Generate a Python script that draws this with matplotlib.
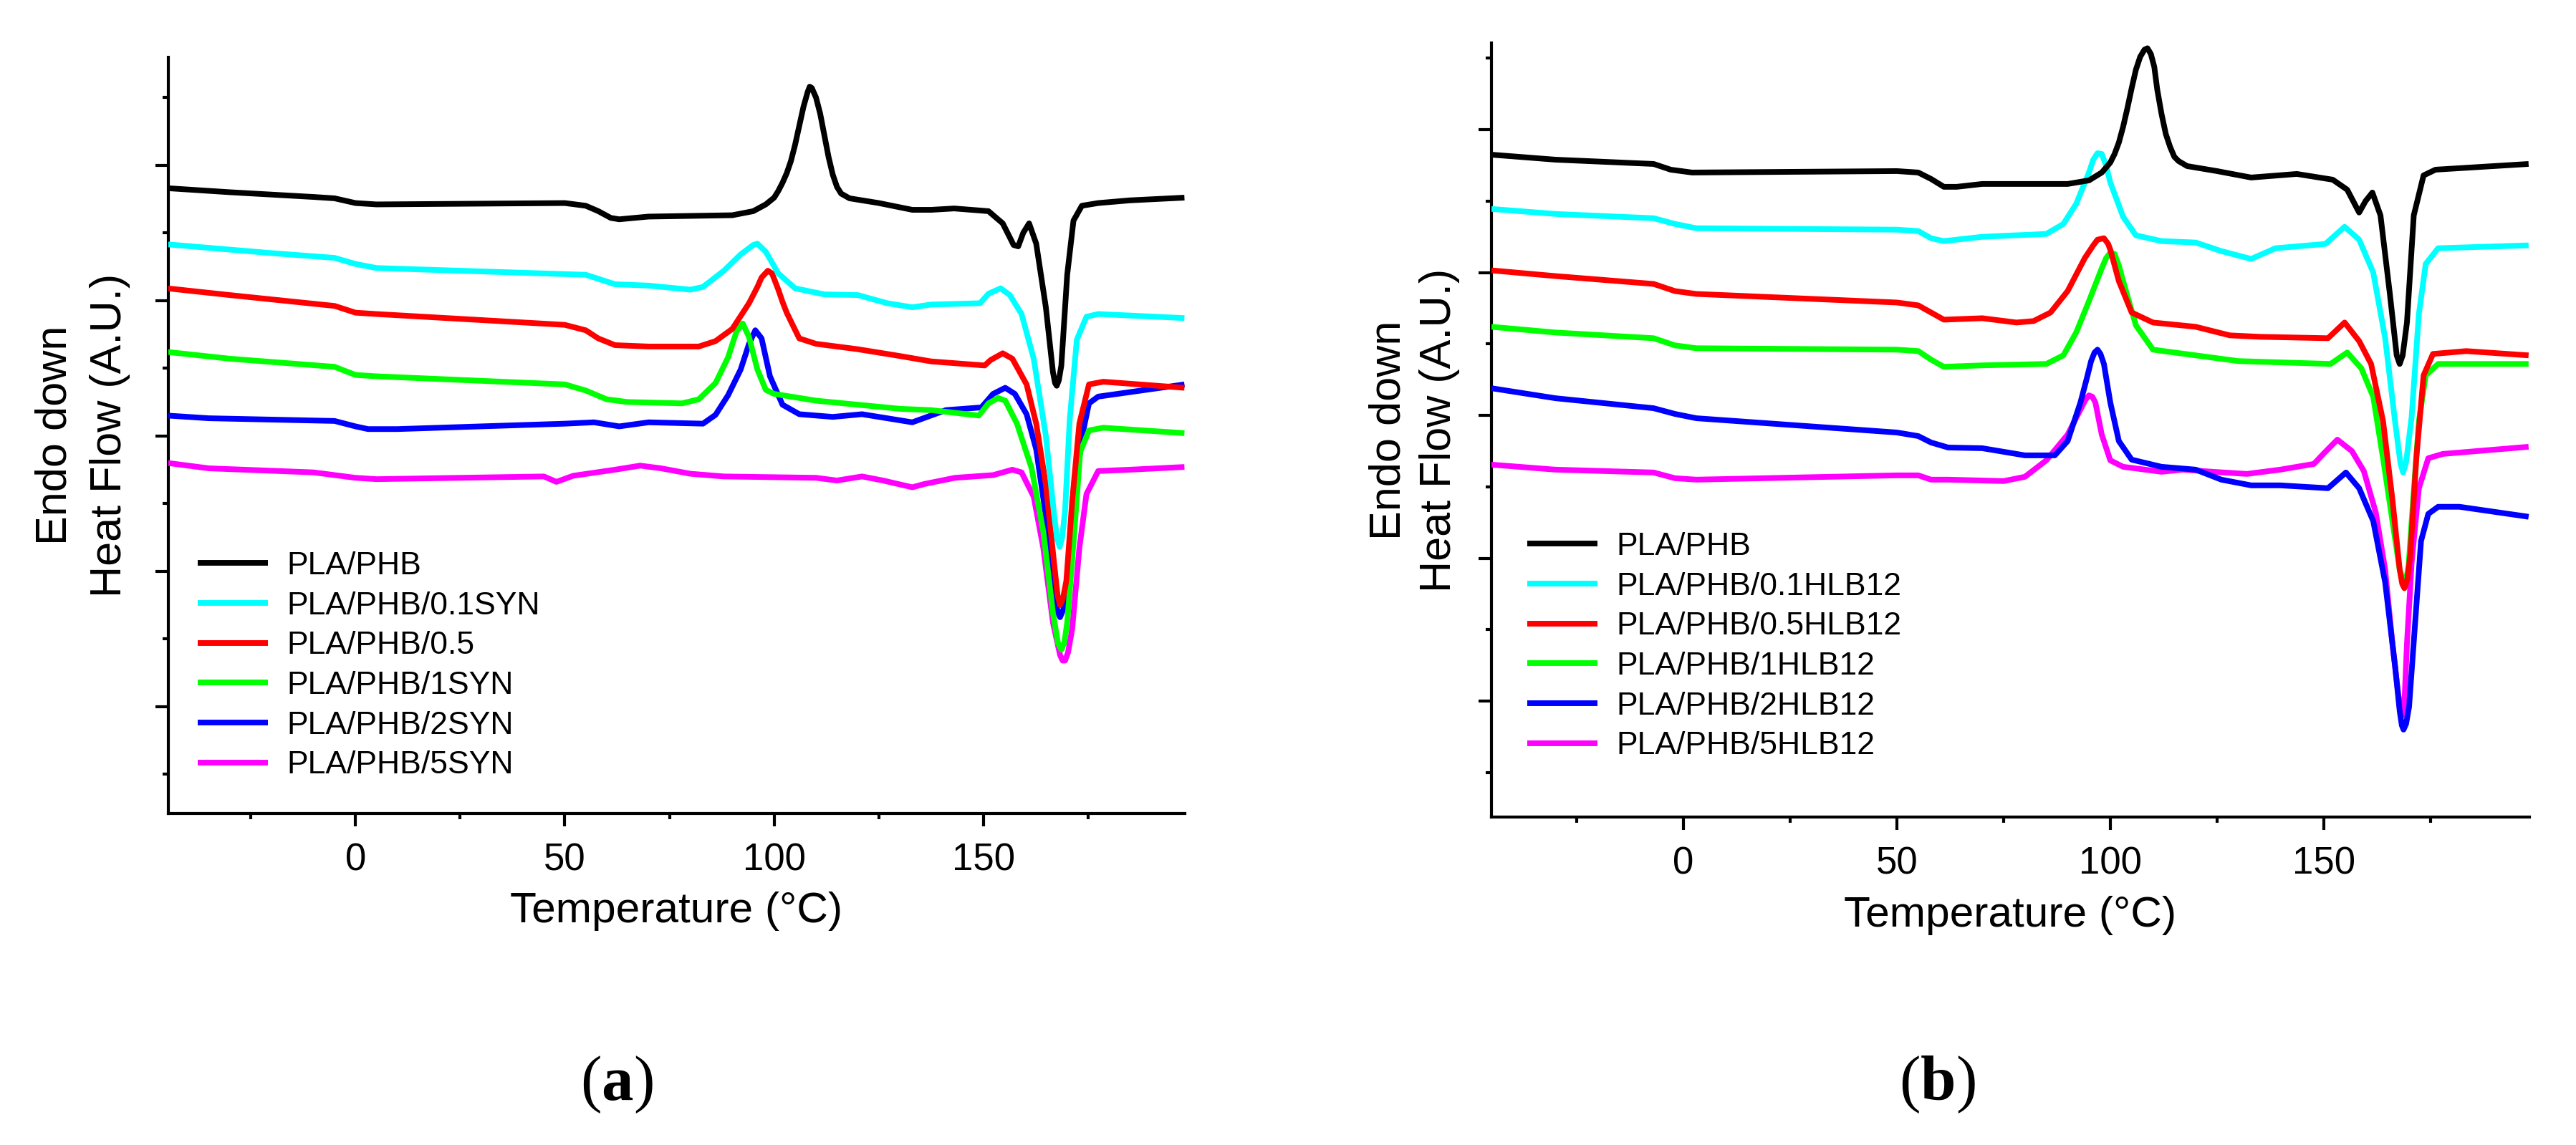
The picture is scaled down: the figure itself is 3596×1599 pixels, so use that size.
import matplotlib
matplotlib.use("Agg")
import matplotlib.pyplot as plt
from matplotlib.ticker import MultipleLocator, NullFormatter

plt.rcParams["font.family"] = ["Liberation Sans", "DejaVu Sans"]
plt.rcParams["mathtext.fontset"] = "custom"
plt.rcParams["mathtext.rm"] = "Liberation Serif"
plt.rcParams["mathtext.bf"] = "Liberation Serif:bold"

colors = ["#000000", "#00ffff", "#ff0000", "#00ff00", "#0000ff", "#ff00ff"]

# ---- panel (a): SYN series ----
labels_a = ["PLA/PHB", "PLA/PHB/0.1SYN", "PLA/PHB/0.5", "PLA/PHB/1SYN",
            "PLA/PHB/2SYN", "PLA/PHB/5SYN"]

t_a0 = [-45, -30, -10, -5, 0, 5, 50, 55, 58, 61, 63, 70, 90, 95, 98, 100, 101, 102, 103, 104, 105,
        106, 107, 108, 108.5, 109, 110, 111, 112, 113, 114, 115, 116, 118, 125, 133, 137.5, 143,
        151.2, 154.6, 157.2, 158.3, 159.5, 160.9, 162.6, 164.9, 166.6, 167.1, 167.5, 168.0, 168.6,
        170.0, 171.5, 173.5, 177.4, 185, 198]
h_a0 = [4.83, 4.80, 4.765, 4.755, 4.72, 4.71, 4.72, 4.70, 4.66, 4.61, 4.60, 4.62, 4.63, 4.66, 4.71,
        4.76, 4.81, 4.87, 4.94, 5.03, 5.15, 5.29, 5.43, 5.54, 5.58, 5.57, 5.50, 5.38, 5.22, 5.06,
        4.93, 4.84, 4.79, 4.755, 4.72, 4.67, 4.67, 4.68, 4.66, 4.57, 4.41, 4.40, 4.50, 4.57, 4.42,
        3.95, 3.47, 3.39, 3.37, 3.41, 3.52, 4.19, 4.59, 4.70, 4.72, 4.74, 4.76]

t_a1 = [-45, -20, -5, 0, 5, 55, 58, 62, 70, 80, 83, 88, 92, 95, 96, 98, 101, 105, 112, 120, 127,
        133, 137.5, 149.2, 151.2, 154.1, 156.3, 159.1, 162.0, 164.9, 166.9, 167.6, 168.2, 168.8,
        169.5, 170.6, 172.3, 174.6, 177.4, 198]
h_a1 = [4.415, 4.35, 4.315, 4.27, 4.24, 4.19, 4.16, 4.12, 4.11, 4.08, 4.10, 4.22, 4.34, 4.41, 4.42,
        4.36, 4.20, 4.09, 4.045, 4.04, 3.98, 3.95, 3.97, 3.98, 4.05, 4.09, 4.04, 3.90, 3.57, 3.00,
        2.41, 2.24, 2.18, 2.25, 2.45, 3.12, 3.71, 3.88, 3.90, 3.87]

t_a2 = [-45, -30, -5, 0, 5, 50, 55, 58, 62, 70, 82, 86, 90, 94, 96, 97, 98.5, 99.5, 101, 102, 103,
        106, 110, 120, 130, 137.5, 150.3, 151.7, 154.6, 156.9, 160.3, 162.6, 164.9, 166.9, 167.7,
        168.3, 169.0, 169.8, 171.2, 172.9, 175.2, 178.6, 198]
h_a2 = [4.09, 4.04, 3.96, 3.91, 3.90, 3.82, 3.78, 3.72, 3.67, 3.66, 3.66, 3.70, 3.79, 3.98, 4.10,
        4.17, 4.22, 4.20, 4.08, 3.99, 3.91, 3.72, 3.68, 3.64, 3.59, 3.55, 3.52, 3.56, 3.61, 3.57,
        3.38, 3.09, 2.64, 2.05, 1.82, 1.75, 1.80, 1.93, 2.52, 3.09, 3.38, 3.40, 3.355]

t_a3 = [-45, -30, -5, 0, 5, 50, 55, 60, 65, 78, 82, 86, 89, 91, 92.5, 94, 96, 98, 100, 110, 120,
        130, 137.5, 148.9, 151.2, 153.5, 155.2, 158.0, 161.5, 164.3, 166.6, 167.8, 168.6, 169.3,
        170.0, 171.7, 173.1, 175.2, 178.6, 198]
h_a3 = [3.62, 3.57, 3.51, 3.45, 3.44, 3.38, 3.335, 3.27, 3.25, 3.24, 3.27, 3.39, 3.58, 3.77, 3.83,
        3.73, 3.49, 3.34, 3.31, 3.26, 3.23, 3.20, 3.19, 3.15, 3.24, 3.28, 3.26, 3.09, 2.76, 2.29,
        1.69, 1.47, 1.42, 1.47, 1.62, 2.29, 2.88, 3.04, 3.06, 3.02]

t_a4 = [-45, -35, -5, 0, 3, 10, 50, 57, 63, 70, 83, 86, 89, 92, 94, 95.5, 97, 99, 102, 106, 114,
        121, 127, 133, 137, 141, 149.5, 152.3, 155.2, 157.5, 160.3, 162.6, 164.9, 166.9, 167.7,
        168.3, 169.1, 170.0, 171.7, 173.5, 175.2, 177.4, 198]
h_a4 = [3.15, 3.13, 3.11, 3.07, 3.05, 3.05, 3.09, 3.10, 3.07, 3.10, 3.09, 3.155, 3.30, 3.49, 3.68,
        3.78, 3.72, 3.44, 3.23, 3.16, 3.14, 3.16, 3.13, 3.10, 3.145, 3.19, 3.21, 3.31, 3.355, 3.31,
        3.16, 2.90, 2.41, 1.86, 1.70, 1.66, 1.72, 1.93, 2.52, 2.99, 3.24, 3.29, 3.38]

t_a5 = [-45, -35, -10, 0, 5, 45, 48, 52, 62, 68, 73, 80, 88, 110, 115, 121, 126, 133, 136, 143.2,
        152.3, 156.9, 159.1, 162.0, 164.3, 166.6, 168.3, 168.9, 169.5, 170.2, 171.2, 172.9, 174.6,
        177.4, 185, 198]
h_a5 = [2.80, 2.76, 2.73, 2.69, 2.68, 2.70, 2.66, 2.705, 2.75, 2.78, 2.76, 2.72, 2.70, 2.69, 2.67,
        2.70, 2.67, 2.62, 2.645, 2.69, 2.71, 2.75, 2.73, 2.55, 2.17, 1.62, 1.38, 1.34, 1.34, 1.40,
        1.575, 2.17, 2.57, 2.74, 2.75, 2.77]

# ---- panel (b): HLB12 series ----
labels_b = ["PLA/PHB", "PLA/PHB/0.1HLB12", "PLA/PHB/0.5HLB12", "PLA/PHB/1HLB12",
            "PLA/PHB/2HLB12", "PLA/PHB/5HLB12"]

t_b0 = [-45, -30, -7, -3, 2, 50, 55, 58, 61, 64, 70, 90, 95, 98, 100, 101, 102, 103, 104, 105, 106,
        107, 108, 108.7, 109.5, 110.3, 111, 112, 113, 114, 115, 116, 118, 125, 133, 143.7, 152.1,
        155.5, 158.3, 159.8, 161.4, 163.3, 165.5, 167.1, 167.8, 168.5, 169.5, 171.1, 173.4, 176.2,
        198]
h_b0 = [4.825, 4.79, 4.76, 4.72, 4.70, 4.71, 4.70, 4.655, 4.60, 4.60, 4.62, 4.62, 4.645, 4.70, 4.77,
        4.83, 4.91, 5.02, 5.15, 5.29, 5.42, 5.51, 5.56, 5.57, 5.53, 5.44, 5.28, 5.11, 4.97, 4.88,
        4.81, 4.78, 4.745, 4.71, 4.665, 4.69, 4.65, 4.58, 4.42, 4.50, 4.56, 4.40, 3.85, 3.42, 3.36,
        3.42, 3.65, 4.40, 4.68, 4.72, 4.76]

t_b1 = [-45, -30, -7, -2, 3, 50, 55, 58, 61, 70, 85, 89, 92, 95, 96, 97, 98, 99, 100, 103, 106,
        112, 120, 126, 133, 138.7, 150.4, 154.9, 158.3, 161.6, 164.4, 166.7, 168.0, 168.6, 169.3,
        170.6, 172.3, 173.9, 176.8, 198]
h_b1 = [4.445, 4.41, 4.38, 4.34, 4.31, 4.30, 4.29, 4.24, 4.22, 4.25, 4.27, 4.34, 4.48, 4.70, 4.79,
        4.835, 4.83, 4.75, 4.63, 4.39, 4.26, 4.22, 4.21, 4.15, 4.095, 4.17, 4.20, 4.32, 4.23, 4.00,
        3.54, 2.96, 2.66, 2.60, 2.67, 2.99, 3.71, 4.06, 4.17, 4.19]

t_b2 = [-45, -30, -7, -2, 3, 50, 55, 58, 61, 70, 78, 82, 86, 90, 94, 96, 97, 98.5, 99.5, 100, 102,
        105, 110, 120, 128, 135, 151.0, 154.9, 158.3, 161.1, 163.9, 166.1, 167.8, 168.4, 168.9,
        169.6, 170.3, 171.7, 173.4, 175.6, 183.4, 198]
h_b2 = [4.015, 3.975, 3.92, 3.87, 3.85, 3.79, 3.77, 3.72, 3.67, 3.68, 3.65, 3.66, 3.72, 3.87, 4.10,
        4.19, 4.23, 4.24, 4.20, 4.16, 3.94, 3.72, 3.65, 3.62, 3.56, 3.55, 3.54, 3.65, 3.52, 3.36,
        2.96, 2.41, 1.92, 1.82, 1.79, 1.85, 2.03, 2.70, 3.28, 3.43, 3.45, 3.42]

t_b3 = [-45, -30, -7, -2, 3, 50, 55, 58, 61, 70, 85, 89, 92, 95, 98, 99, 100, 101, 102, 103, 106,
        110, 120, 130, 151.6, 155.5, 158.8, 161.6, 163.9, 166.1, 167.8, 168.5, 169.2, 169.9, 170.6,
        172.3, 173.9, 176.8, 198]
h_b3 = [3.62, 3.58, 3.54, 3.49, 3.47, 3.46, 3.45, 3.39, 3.34, 3.35, 3.36, 3.42, 3.58, 3.80, 4.03,
        4.10, 4.14, 4.13, 4.05, 3.94, 3.63, 3.46, 3.42, 3.38, 3.36, 3.44, 3.33, 3.13, 2.70, 2.26,
        1.92, 1.85, 1.83, 1.95, 2.26, 2.96, 3.28, 3.36, 3.36]

t_b4 = [-45, -30, -7, -2, 3, 50, 55, 58, 62, 70, 80, 87, 90, 93, 94.5, 95.5, 96.3, 97, 97.7, 98.5,
        100, 102, 105, 112, 120, 126, 133, 139.8, 151.0, 155.2, 158.3, 161.6, 164.4, 166.7, 167.8,
        168.3, 168.7, 169.3, 170.0, 171.4, 172.8, 174.5, 176.8, 181.8, 198]
h_b4 = [3.19, 3.12, 3.05, 3.01, 2.98, 2.88, 2.855, 2.81, 2.775, 2.77, 2.72, 2.72, 2.82, 3.09, 3.26,
        3.38, 3.44, 3.46, 3.43, 3.36, 3.09, 2.82, 2.69, 2.64, 2.62, 2.55, 2.51, 2.51, 2.49, 2.60,
        2.49, 2.26, 1.83, 1.25, 0.93, 0.83, 0.80, 0.84, 0.96, 1.54, 2.12, 2.31, 2.36, 2.36, 2.29]

t_b5 = [-45, -30, -7, -2, 3, 50, 55, 58, 62, 75, 80, 85, 90, 93, 94.2, 95, 95.8, 96.5, 98, 100, 103,
        112, 117, 124, 132, 139.8, 147.7, 149.9, 153.2, 156.6, 159.4, 162.2, 164.4, 166.1, 167.8,
        168.5, 169.0, 169.5, 170.6, 172.3, 174.5, 177.9, 198]
h_b5 = [2.655, 2.62, 2.60, 2.56, 2.55, 2.58, 2.58, 2.55, 2.55, 2.54, 2.57, 2.685, 2.865, 3.04, 3.11,
        3.14, 3.13, 3.09, 2.865, 2.685, 2.64, 2.605, 2.62, 2.605, 2.59, 2.62, 2.66, 2.73, 2.83, 2.75,
        2.61, 2.32, 1.92, 1.40, 0.96, 0.90, 1.05, 1.40, 1.97, 2.49, 2.70, 2.73, 2.78]

series_a = [(t_a0, h_a0), (t_a1, h_a1), (t_a2, h_a2), (t_a3, h_a3), (t_a4, h_a4), (t_a5, h_a5)]
series_b = [(t_b0, h_b0), (t_b1, h_b1), (t_b2, h_b2), (t_b3, h_b3), (t_b4, h_b4), (t_b5, h_b5)]

W, H = 3596, 1599
fig = plt.figure(figsize=(W / 100, H / 100), dpi=100)

ax_a = fig.add_axes([235 / W, 1 - 1136 / H, (1654 - 235) / W, (1136 - 80) / H])
ax_b = fig.add_axes([2082 / W, 1 - 1141 / H, (3531 - 2082) / W, (1141 - 60) / H])


def draw_panel(ax, series, labels, xlim, ylim, ax_h, ylab_x, ylab_ls, leg_anchor):
    for i, (t, h) in enumerate(series):
        ax.plot(t, h, color=colors[i], lw=5.7, label=labels[i], zorder=10 - i,
                solid_joinstyle="round", solid_capstyle="butt")
    ax.set_xlim(*xlim)
    ax.set_ylim(*ylim)
    for s in ["top", "right"]:
        ax.spines[s].set_visible(False)
    for s in ["left", "bottom"]:
        ax.spines[s].set_linewidth(3.0)
    ax.xaxis.set_major_locator(MultipleLocator(50))
    ax.xaxis.set_minor_locator(MultipleLocator(25))
    ax.yaxis.set_major_locator(MultipleLocator(1))
    ax.yaxis.set_minor_locator(MultipleLocator(0.5))
    ax.yaxis.set_major_formatter(NullFormatter())
    ax.tick_params(which="major", length=13, width=3.0, direction="out")
    ax.tick_params(which="minor", length=6, width=3.0, direction="out")
    ax.tick_params(axis="x", labelsize=38, pad=16)
    ax.set_xlabel("Temperature (\u00b0C)", fontsize=43.5, va="center")
    ax.xaxis.set_label_coords(0.5, -137 / ax_h)
    ax.set_ylabel("Endo down\nHeat Flow (A.U.)", fontsize=44, va="center",
                  linespacing=ylab_ls)
    ax.yaxis.set_label_coords(ylab_x, 0.5)
    leg = ax.legend(loc="upper left", bbox_to_anchor=leg_anchor, frameon=False, fontsize=32,
                    handlelength=2.2, handletextpad=0.6, labelspacing=0.33,
                    borderaxespad=0, borderpad=0)
    for line in leg.get_lines():
        line.set_linewidth(5.7)


draw_panel(ax_a, series_a, labels_a, (-44.7, 198.1), (0.21, 5.797), 1056.0,
           -120 / 1419, 1.45, ((276 - 235) / 1419, (1136 - 770) / 1056))
draw_panel(ax_b, series_b, labels_b, (-45.0, 198.2), (0.188, 5.607), 1081.0,
           -108 / 1449, 1.3, ((2132 - 2082) / 1449, (1141 - 743) / 1081))

fig.text(861 / W, 1 - 1515 / H, r"($\mathbf{a}$)", fontsize=64, family="Liberation Serif",
         ha="center", va="center")
fig.text(2704 / W, 1 - 1515 / H, r"($\mathbf{b}$)", fontsize=64, family="Liberation Serif",
         ha="center", va="center")

fig.savefig("out.png", dpi=100)
